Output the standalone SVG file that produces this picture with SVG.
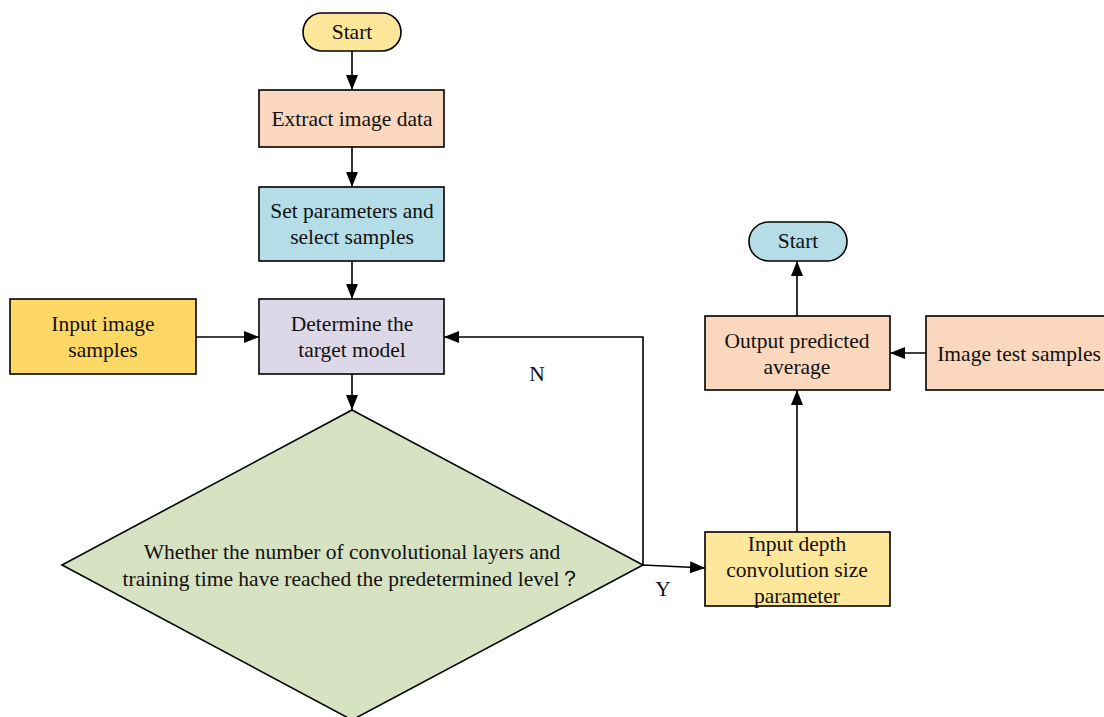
<svg xmlns="http://www.w3.org/2000/svg" width="1104" height="717" viewBox="0 0 1104 717">
<defs>
<marker id="arr" viewBox="0 0 15 12" refX="15" refY="6" markerWidth="15" markerHeight="12" markerUnits="userSpaceOnUse" orient="auto">
<path d="M0,0 L15,6 L0,12 Z" fill="#000"/>
</marker>
<style>
.box{stroke:#000;stroke-width:1.6}
.t{font-family:"Liberation Serif","Times New Roman",serif;font-size:21.5px;fill:#111;text-anchor:middle}
.c{fill:none;stroke:#000;stroke-width:1.6;marker-end:url(#arr)}
</style>
</defs>
<rect width="1104" height="717" fill="#fff"/>
<g id="start1"><rect class="box" x="303" y="13" width="98" height="38" rx="19" fill="#FEE69A"/><text class="t" x="352" y="39">Start</text></g>
<g id="extract"><rect class="box" x="259" y="90" width="185" height="57" fill="#FAD7BD"/><text class="t" x="352" y="126">Extract image data</text></g>
<g id="setparams"><rect class="box" x="259" y="187" width="185" height="74" fill="#B4DDE8"/><text class="t" x="352" y="218">Set parameters and</text><text class="t" x="352" y="244">select samples</text></g>
<g id="determine"><rect class="box" x="259" y="299" width="185" height="75" fill="#DDD8E7"/><text class="t" x="352" y="331">Determine the</text><text class="t" x="352" y="357">target model</text></g>
<g id="inputimg"><rect class="box" x="10" y="299" width="186" height="75" fill="#FDD865"/><text class="t" x="103" y="331">Input image</text><text class="t" x="103" y="357">samples</text></g>
<g id="decision"><polygon class="box" points="352,410 643,565 352,720 62,565" fill="#D6E2C1"/><text class="t" x="352" y="559">Whether the number of convolutional layers and</text><text class="t" x="352" y="586">training time have reached the predetermined level？</text></g>
<g id="inputdepth"><rect class="box" x="705" y="532" width="185" height="74" fill="#FEE69A"/><text class="t" x="797" y="551">Input depth</text><text class="t" x="797" y="577">convolution size</text><text class="t" x="797" y="603">parameter</text></g>
<g id="output"><rect class="box" x="705" y="316" width="185" height="74" fill="#FAD7BD"/><text class="t" x="797" y="348">Output predicted</text><text class="t" x="797" y="374">average</text></g>
<g id="testsamples"><rect class="box" x="926" y="316" width="186" height="74" fill="#FAD7BD"/><text class="t" x="1019" y="361">Image test samples</text></g>
<g id="start2"><rect class="box" x="749" y="222" width="98" height="39" rx="19.5" fill="#B4DDE8"/><text class="t" x="798" y="248">Start</text></g>
<g id="connectors">
<line class="c" x1="352" y1="51" x2="352" y2="90"/>
<line class="c" x1="352" y1="147" x2="352" y2="187"/>
<line class="c" x1="352" y1="261" x2="352" y2="299"/>
<line class="c" x1="196" y1="337" x2="259" y2="337"/>
<line class="c" x1="352" y1="374" x2="352" y2="410"/>
<polyline class="c" points="643,565 643,337 444,337"/>
<line class="c" x1="643" y1="565" x2="705" y2="568"/>
<line class="c" x1="797" y1="532" x2="797" y2="390"/>
<line class="c" x1="926" y1="353" x2="890" y2="353"/>
<line class="c" x1="797" y1="316" x2="797" y2="261"/>
<text class="t" x="537" y="381">N</text>
<text class="t" x="663" y="596">Y</text>
</g>
</svg>
